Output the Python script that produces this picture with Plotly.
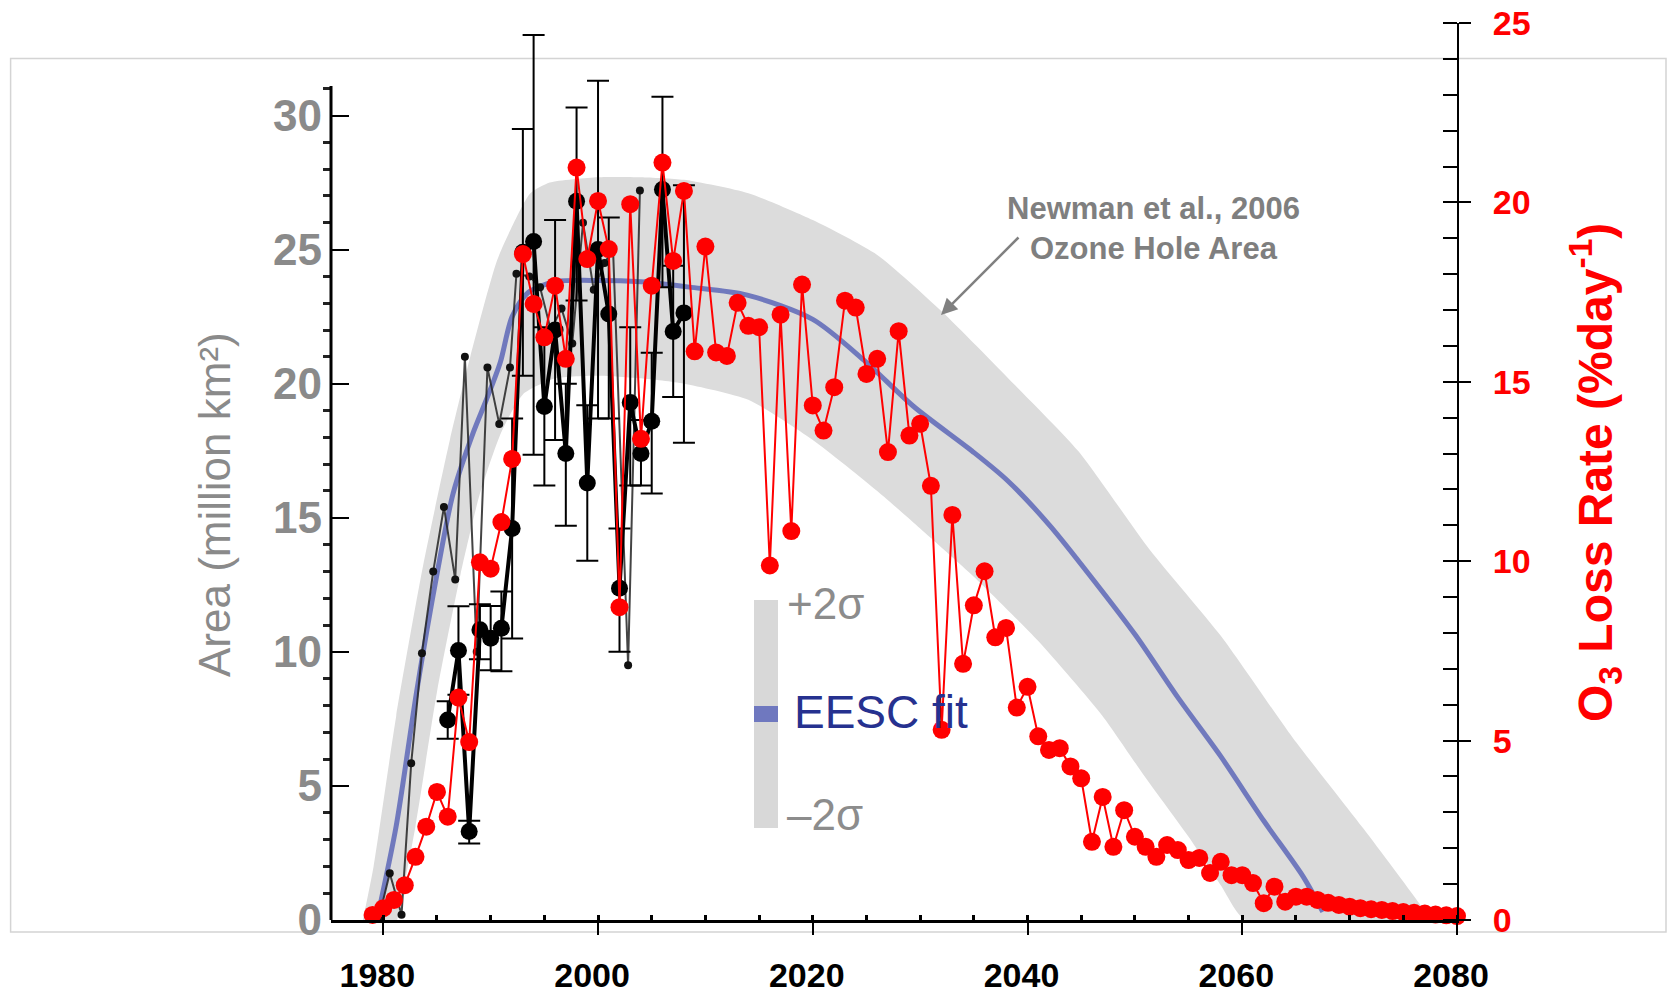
import plotly.graph_objects as go

# ---------------- data ----------------
# O3 loss rate (right axis, %/day), one value per year 1979-2080
red_years = list(range(1979, 2081))
red_vals = [0.14, 0.33, 0.56, 0.97, 1.76, 2.6, 3.57, 2.88, 6.2, 4.96,
            9.97, 9.79, 11.09, 12.85, 18.56, 17.17, 16.24, 17.68, 15.64, 20.97,
            18.42, 20.04, 18.7, 8.72, 19.95, 13.41, 17.68, 21.11, 18.37, 20.32,
            15.85, 18.77, 15.82, 15.72, 17.2, 16.56, 16.52, 9.88, 16.87, 10.84,
            17.71, 14.34, 13.64, 14.85, 17.26, 17.07, 15.22, 15.64, 13.04, 16.41,
            13.5, 13.83, 12.1, 5.3, 11.29, 7.14, 8.77, 9.72, 7.88, 8.14,
            5.92, 6.5, 5.12, 4.74, 4.79, 4.28, 3.95, 2.18, 3.43, 2.04,
            3.06, 2.32, 2.04, 1.76, 2.09, 1.95, 1.67, 1.73, 1.31, 1.62,
            1.25, 1.25, 1.03, 0.47, 0.93, 0.51, 0.65, 0.65, 0.56, 0.48,
            0.42, 0.37, 0.33, 0.30, 0.28, 0.25, 0.22, 0.20, 0.18, 0.15,
            0.13, 0.11]
assert len(red_years) == len(red_vals)

# Ozone hole area, observed with error bars (left axis, million km2)
obs_years = list(range(1986, 2009))
obs_vals = [7.46, 10.05, 3.3, 10.82, 10.51, 10.88, 14.6, 24.9, 25.3, 19.15,
            22.0, 17.4, 26.8, 16.3, 25.0, 22.6, 12.37, 19.3, 17.4, 18.6,
            27.24, 21.95, 22.64]
obs_err_plus = [0.7, 1.65, 0.4, 0.95, 1.2, 1.37, 4.1, 4.6, 7.7, 2.95,
                4.1, 2.6, 3.5, 2.9, 6.3, 3.6, 2.23, 2.8, 1.25, 2.55,
                3.46, 2.45, 4.76]
obs_err_minus = [0.7, 1.65, 0.45, 1.1, 1.2, 1.6, 4.1, 4.6, 7.95, 2.95,
                 4.1, 2.7, 3.7, 2.9, 6.3, 3.9, 2.37, 3.1, 1.2, 2.7,
                 3.64, 2.45, 4.84]

# Newman et al. ozone hole area (small black dots)
newman_years = [1979.6, 1980.6, 1981.7, 1982.6, 1983.6, 1984.65, 1985.65, 1986.7,
                1987.6, 1988.7, 1989.7, 1990.8, 1991.8, 1992.4, 1993.6, 1994.6,
                1995.6, 1996.6, 1997.6, 1998.6, 1999.6, 2000.6, 2001.4, 2002.8,
                2003.9]
newman_vals = [0.1, 1.74, 0.2, 5.85, 9.95, 13.0, 15.4, 12.7,
               21.0, 10.0, 20.6, 18.5, 20.6, 24.1, 24.0, 23.6,
               22.0, 22.8, 21.5, 26.0, 23.5, 24.5, 25.0, 9.5,
               27.2]

# EESC fit and +/-2 sigma envelope
eesc_years = [1979.4, 1981.2, 1983.1, 1985.0, 1986.5, 1988.4, 1989.6, 1990.9, 1992.0,
              1993.5, 1996.0, 2000.0, 2004.0, 2008.5, 2013.9, 2020.0, 2024.7, 2029.4,
              2034.8, 2038.1, 2042.1, 2046.1, 2050.1, 2054.0, 2058.0, 2062.0, 2065.7,
              2067.5]
eesc_vals = [0.0, 3.5, 8.5, 12.9, 15.9, 18.2, 19.4, 20.8, 22.5,
             23.4, 23.8, 23.85, 23.8, 23.6, 23.3, 22.4, 20.9, 19.15,
             17.5, 16.4, 14.7, 12.7, 10.6, 8.3, 6.1, 3.7, 1.6,
             0.3]
upper_years = [1978.1, 1979.1, 1981.2, 1983.7, 1986.2, 1988.1, 1990.6, 1992.4, 1993.7,
               1995.5, 2000.0, 2004.0, 2008.0, 2014.0, 2020.0, 2026.0, 2032.0, 2038.7,
               2044.7, 2051.4, 2058.0, 2064.7, 2071.3, 2076.7, 2077.5]
upper_vals = [0.0, 2.0, 7.6, 13.2, 17.9, 21.0, 24.6, 26.2, 27.1,
              27.5, 27.7, 27.7, 27.6, 27.1, 26.1, 24.8, 22.7, 20.0,
              17.5, 13.8, 10.6, 6.8, 3.4, 0.5, 0.0]
lower_years = [1981.3, 1983.0, 1985.0, 1987.2, 1989.0, 1991.0, 1993.0, 1996.0, 2000.0,
               2004.0, 2008.0, 2014.0, 2020.0, 2026.0, 2030.0, 2035.0, 2041.0, 2047.0,
               2051.0, 2055.0, 2058.0, 2060.3]
lower_vals = [0.0, 3.5, 8.5, 12.9, 15.9, 18.2, 19.6, 20.2, 20.3,
              20.2, 20.0, 19.4, 17.9, 16.0, 14.6, 12.8, 10.4, 7.6,
              5.3, 3.1, 1.3, 0.0]

x_ticks = [1980, 2000, 2020, 2040, 2060, 2080]
left_ticks = [0, 5, 10, 15, 20, 25, 30]
right_ticks = [0, 5, 10, 15, 20, 25]

# ---------------- layout helpers (pixel -> paper) ----------------
W, H = 1668, 998
ML, MR, MT, MB = 331, 211, 23, 78
PW, PH = W - ML - MR, H - MT - MB


def xp(px):
    return (px - ML) / PW


def yp(py):
    return (H - MB - py) / PH


FONT = "Liberation Sans, Arial, sans-serif"
GRAY_TXT = "#8a8a8a"

fig = go.Figure()

# +/- 2 sigma band
fig.add_trace(go.Scatter(
    x=upper_years + lower_years[::-1], y=upper_vals + lower_vals[::-1],
    fill="toself", fillcolor="#dcdcdc", mode="lines",
    line=dict(width=0, shape="spline", smoothing=0.6),
    hoverinfo="skip", showlegend=False))

# EESC fit
fig.add_trace(go.Scatter(
    x=eesc_years, y=eesc_vals, mode="lines",
    line=dict(color="rgba(100,110,185,0.9)", width=5, shape="spline", smoothing=0.8),
    showlegend=False))

# Newman area (thin line, small dots)
fig.add_trace(go.Scatter(
    x=newman_years, y=newman_vals, mode="lines+markers",
    line=dict(color="rgba(35,35,35,0.85)", width=2),
    marker=dict(size=8, color="#111111"),
    cliponaxis=False, showlegend=False))

# Observed area with error bars
fig.add_trace(go.Scatter(
    x=obs_years, y=obs_vals, mode="lines+markers",
    line=dict(color="black", width=4),
    marker=dict(size=17, color="black"),
    error_y=dict(type="data", symmetric=False, array=obs_err_plus,
                 arrayminus=obs_err_minus, color="black", thickness=2, width=11),
    cliponaxis=False, showlegend=False))

# O3 loss rate
fig.add_trace(go.Scatter(
    x=red_years, y=red_vals, yaxis="y2", mode="lines+markers",
    line=dict(color="#ff0000", width=2),
    marker=dict(size=18, color="#ff0000"),
    cliponaxis=False, showlegend=False))

fig.update_layout(
    width=W, height=H, autosize=False,
    margin=dict(l=ML, r=MR, t=MT, b=MB, pad=0, autoexpand=False),
    paper_bgcolor="white", plot_bgcolor="white",
    font=dict(family=FONT),
    xaxis=dict(
        range=[1975.13, 2080], showgrid=False, zeroline=False, automargin=False,
        showline=True, linecolor="black", linewidth=3,
        tickmode="array", tickvals=x_ticks,
        ticks="outside", ticklen=12, tickwidth=2, tickcolor="black",
        tickfont=dict(family=FONT, size=34, color="black", weight="bold"),
        ticklabelstandoff=11, ticklabelshift=-6,
        minor=dict(dtick=5, ticks="inside", ticklen=5, tickwidth=3, tickcolor="black"),
    ),
    yaxis=dict(
        range=[0, 33.45], showgrid=False, zeroline=False, showline=False,
        automargin=False,
        tickmode="array", tickvals=left_ticks,
        ticks="inside", ticklen=18, tickwidth=2, tickcolor="black",
        tickfont=dict(family=FONT, size=44, color=GRAY_TXT, weight="bold"),
        ticklabelstandoff=8,
        minor=dict(tickvals=[v for v in range(1, 32) if v % 5], ticks="outside",
                   ticklen=7, tickwidth=3, tickcolor="#222222"),
    ),
    yaxis2=dict(
        range=[0, 25], overlaying="y", side="right", anchor="x",
        showgrid=False, zeroline=False, automargin=False,
        showline=True, linecolor="black", linewidth=2,
        tickmode="array", tickvals=right_ticks,
        ticks="outside", ticklen=12, tickwidth=2, tickcolor="black",
        tickfont=dict(family=FONT, size=34, color="#ff0000", weight="bold"),
        ticklabelstandoff=15,
        minor=dict(dtick=1, ticks="inside", ticklen=14, tickwidth=2, tickcolor="black"),
    ),
)

shapes = [
    # outer light frame
    dict(type="rect", xref="paper", yref="paper", x0=xp(10.6), x1=xp(1666),
         y0=yp(932), y1=yp(58.5), line=dict(color="#d4d4d4", width=1.5), layer="below"),
    # left axis line
    dict(type="line", xref="paper", yref="y", x0=0, x1=0, y0=0, y1=31.1,
         line=dict(color="black", width=3), layer="above"),
    # in-plot legend: sigma bar and EESC swatch
    dict(type="rect", xref="paper", yref="paper", x0=xp(754), x1=xp(778),
         y0=yp(828), y1=yp(600), fillcolor="#d8d8d8", line=dict(width=0), layer="below"),
    dict(type="rect", xref="paper", yref="paper", x0=xp(754), x1=xp(778),
         y0=yp(722), y1=yp(706), fillcolor="#6f78bf", line=dict(width=0), layer="above"),
]
fig.update_layout(shapes=shapes)

annotations = [
    dict(x=xp(1153), y=yp(228), xref="paper", yref="paper", showarrow=False,
         text="Newman et al., 2006<br>Ozone Hole Area", align="center",
         xanchor="center", yanchor="middle",
         font=dict(family=FONT, size=31, color="#7f7f7f", weight="bold")),
    dict(x=xp(941), y=yp(315), xref="paper", yref="paper", text="",
         showarrow=True, ax=79, ay=-79, arrowhead=2, arrowsize=1.3,
         arrowwidth=2.5, arrowcolor="#808080"),
    dict(x=xp(214), y=yp(505), xref="paper", yref="paper", showarrow=False,
         text="Area (million km²)", textangle=-90, xanchor="center", yanchor="middle",
         font=dict(family=FONT, size=44, color=GRAY_TXT)),
    dict(x=xp(1595), y=yp(473), xref="paper", yref="paper", showarrow=False,
         text="O<sub>3</sub> Loss Rate (%day<sup>-1</sup>)", textangle=-90,
         xanchor="center", yanchor="middle",
         font=dict(family=FONT, size=48, color="#ff0000", weight="bold")),
    dict(x=xp(785), y=yp(603), xref="paper", yref="paper", showarrow=False,
         text="+2σ", xanchor="left", yanchor="middle",
         font=dict(family=FONT, size=44, color="#8c8c8c")),
    dict(x=xp(792), y=yp(712), xref="paper", yref="paper", showarrow=False,
         text="EESC fit", xanchor="left", yanchor="middle",
         font=dict(family=FONT, size=46, color="#26318f")),
    dict(x=xp(785), y=yp(814), xref="paper", yref="paper", showarrow=False,
         text="–2σ", xanchor="left", yanchor="middle",
         font=dict(family=FONT, size=44, color="#8c8c8c")),
]
fig.update_layout(annotations=annotations)

fig.write_html("out.html")
